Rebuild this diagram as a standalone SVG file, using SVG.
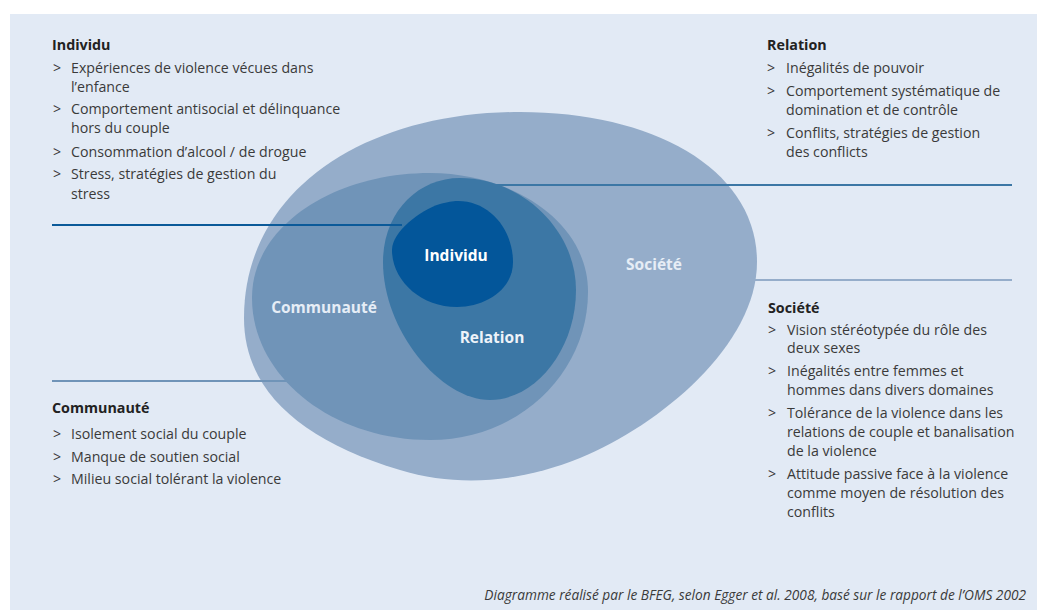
<svg xmlns="http://www.w3.org/2000/svg" width="1037" height="610" viewBox="0 0 1037 610">
<style>
.body{font-family:"Open Sans","Liberation Sans",sans-serif;font-size:14.2px;fill:#3a3a3a}
.head{font-family:"Open Sans","Liberation Sans",sans-serif;font-size:14.3px;font-weight:bold;fill:#222}
.lbl{font-family:"Open Sans","Liberation Sans",sans-serif;font-size:15.5px;font-weight:bold;text-anchor:middle}
.foot{font-family:"Open Sans","Liberation Sans",sans-serif;font-size:13.7px;font-style:italic;fill:#3a3a3a;text-anchor:end}
.ln{stroke-width:2;fill:none}
</style>
<rect x="0" y="0" width="1037" height="610" fill="#ffffff"/>
<rect x="10" y="14" width="1027" height="596" fill="#E2EAF5"/>

<g id="societe">
<path d="M244,318 C244,190 365,112 520,112 C655,112 757,170 757,262 C757,345 660,425 580,458 C520,482 460,488 400,470 C300,440 244,390 244,318 Z" fill="#95ADCA"/>
<text class="lbl" x="654" y="270" fill="#E6EDF6">Société</text>
</g>
<g id="communaute">
<path d="M252,298 C252,225 335,173 430,173 C510,173 588,220 588,292 C588,372 520,440 430,440 C330,440 252,375 252,298 Z" fill="#7094B8"/>
<text class="lbl" x="324" y="313" fill="#E6EDF6">Communauté</text>
</g>
<g id="relation">
<path d="M383,262 C383,212 418,178 460,178 C522,178 576,230 576,290 C576,350 535,400 490,400 C440,400 383,330 383,262 Z" fill="#3C77A5"/>
<text class="lbl" x="492" y="343" fill="#EEF3F9">Relation</text>
</g>
<g id="individu">
<path d="M392,250 C392,232 420,210 440,204 C448,202 452,201 458,201 C490,201 513,230 513,262 C513,290 485,307 457,307 C420,307 392,280 392,250 Z" fill="#03569A"/>
<text class="lbl" x="456" y="261" fill="#FFFFFF">Individu</text>
</g>

<g id="connectors">
<line class="ln" x1="52" y1="225" x2="402" y2="225" stroke="#0B5A99"/>
<line class="ln" x1="493" y1="185" x2="1012" y2="185" stroke="#3C77A5"/>
<line class="ln" x1="755" y1="280" x2="1012" y2="280" stroke="#95ADCA"/>
<line class="ln" x1="52" y1="381" x2="290" y2="381" stroke="#7094B8"/>
</g>

<g id="text-individu">
<text class="head" x="52" y="50">Individu</text>
<text class="body" x="53" y="73">&gt;</text><text class="body" x="71" y="73">Expériences de violence vécues dans</text>
<text class="body" x="71" y="92">l’enfance</text>
<text class="body" x="53" y="114">&gt;</text><text class="body" x="71" y="114">Comportement antisocial et délinquance</text>
<text class="body" x="71" y="133">hors du couple</text>
<text class="body" x="53" y="157">&gt;</text><text class="body" x="71" y="157">Consommation d’alcool / de drogue</text>
<text class="body" x="53" y="179">&gt;</text><text class="body" x="71" y="179">Stress, stratégies de gestion du</text>
<text class="body" x="71" y="199">stress</text>
</g>

<g id="text-relation">
<text class="head" x="767" y="50">Relation</text>
<text class="body" x="767" y="73">&gt;</text><text class="body" x="786" y="73">Inégalités de pouvoir</text>
<text class="body" x="767" y="96">&gt;</text><text class="body" x="786" y="96">Comportement systématique de</text>
<text class="body" x="786" y="115">domination et de contrôle</text>
<text class="body" x="767" y="138">&gt;</text><text class="body" x="786" y="138">Conflits, stratégies de gestion</text>
<text class="body" x="786" y="157">des conflicts</text>
</g>

<g id="text-communaute">
<text class="head" x="52" y="413">Communauté</text>
<text class="body" x="53" y="439">&gt;</text><text class="body" x="71" y="439">Isolement social du couple</text>
<text class="body" x="53" y="462">&gt;</text><text class="body" x="71" y="462">Manque de soutien social</text>
<text class="body" x="53" y="484">&gt;</text><text class="body" x="71" y="484">Milieu social tolérant la violence</text>
</g>

<g id="text-societe">
<text class="head" x="768" y="313">Société</text>
<text class="body" x="768" y="335">&gt;</text><text class="body" x="787" y="335">Vision stéréotypée du rôle des</text>
<text class="body" x="787" y="353">deux sexes</text>
<text class="body" x="768" y="376">&gt;</text><text class="body" x="787" y="376">Inégalités entre femmes et</text>
<text class="body" x="787" y="395">hommes dans divers domaines</text>
<text class="body" x="768" y="418">&gt;</text><text class="body" x="787" y="418">Tolérance de la violence dans les</text>
<text class="body" x="787" y="437">relations de couple et banalisation</text>
<text class="body" x="787" y="456">de la violence</text>
<text class="body" x="768" y="479">&gt;</text><text class="body" x="787" y="479">Attitude passive face à la violence</text>
<text class="body" x="787" y="498">comme moyen de résolution des</text>
<text class="body" x="787" y="517">conflits</text>
</g>

<text class="foot" x="1026" y="600">Diagramme réalisé par le BFEG, selon Egger et al. 2008, basé sur le rapport de l’OMS 2002</text>
</svg>
